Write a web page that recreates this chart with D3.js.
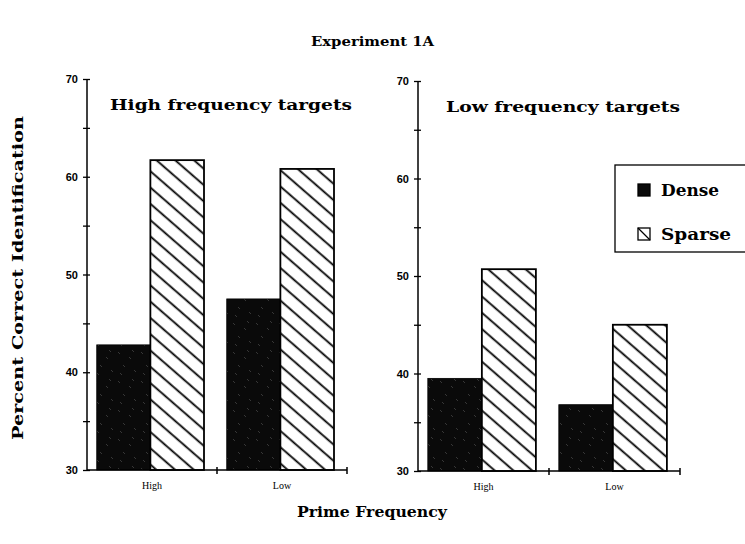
<!DOCTYPE html>
<html><head><meta charset="utf-8">
<script src="https://cdn.jsdelivr.net/npm/d3@7"></script>
<style>
html,body{margin:0;padding:0;background:#fff;}
svg{display:block;}
</style>
</head><body>
<svg id="chart" width="745" height="544"></svg>
<script>
// ---- data ----
const primeCategories = ["High", "Low"];
const seriesNames = ["Dense", "Sparse"];
const highTargetsDense = [42.8, 47.5];
const highTargetsSparse = [61.7, 60.8];
const lowTargetsDense = [39.5, 36.8];
const lowTargetsSparse = [50.7, 45.0];
const yTickValues = [30, 35, 40, 45, 50, 55, 60, 65, 70];
const yTickLabels = ["30", "", "40", "", "50", "", "60", "", "70"];
const panelTitles = ["High frequency targets", "Low frequency targets"];

const svg = d3.select("#chart");
const slab = "'DejaVu Serif', serif";

// patterns
const defs = svg.append("defs");
const hatch = defs.append("pattern").attr("id", "hatch")
  .attr("patternUnits", "userSpaceOnUse").attr("width", 12).attr("height", 12.3)
  .attr("patternTransform", "rotate(41)");
hatch.append("rect").attr("width", 12).attr("height", 12.3).attr("fill", "#fff");
hatch.append("line").attr("x1", -1).attr("x2", 13).attr("y1", 6).attr("y2", 6)
  .attr("stroke", "#000").attr("stroke-width", 1.8);

const dense = defs.append("pattern").attr("id", "dense")
  .attr("patternUnits", "userSpaceOnUse").attr("width", 23).attr("height", 29);
dense.append("rect").attr("width", 23).attr("height", 29).attr("fill", "#0a0a0a");
[[3,4],[14,9],[8,17],[19,22],[5,25],[17,2]].forEach(p => {
  dense.append("line").attr("x1", p[0]).attr("y1", p[1]).attr("x2", p[0]+2).attr("y2", p[1]+2)
    .attr("stroke", "#555").attr("stroke-width", 0.6);
});

function slabText(sel, size, len) {
  return sel.attr("font-family", slab).attr("font-weight", "bold").attr("font-size", size)
    .attr("textLength", len).attr("lengthAdjust", "spacingAndGlyphs");
}

// title
slabText(svg.append("text").attr("x", 311).attr("y", 46), 13, 123).text("Experiment 1A");

// y label
slabText(svg.append("text").attr("transform", "translate(23,440) rotate(-90)"), 14, 324)
  .text("Percent Correct Identification");

// x label
slabText(svg.append("text").attr("x", 297).attr("y", 517), 14, 150).text("Prime Frequency");

const panels = [
  {x0: 87, x1: 347, yTop: 79, yBot: 470, dense: highTargetsDense, sparse: highTargetsSparse, title: panelTitles[0], tx: 110, ty: 110, tw: 242},
  {x0: 418, x1: 680, yTop: 81, yBot: 471, dense: lowTargetsDense, sparse: lowTargetsSparse, title: panelTitles[1], tx: 446, ty: 112, tw: 234}
];

panels.forEach(p => {
  const g = svg.append("g");
  const y = d3.scaleLinear().domain([30, 70]).range([p.yBot, p.yTop]);
  const x = d3.scaleBand().domain(primeCategories).range([p.x0, p.x1]).padding(0);
  const xs = d3.scaleBand().domain(seriesNames)
    .range([x.bandwidth() * 0.075, x.bandwidth() * 0.9]).padding(0);

  // bars
  primeCategories.forEach((c, i) => {
    const vals = [p.dense[i], p.sparse[i]];
    seriesNames.forEach((s, j) => {
      g.append("rect")
        .attr("x", x(c) + xs(s))
        .attr("y", y(vals[j]))
        .attr("width", xs.bandwidth())
        .attr("height", y(30) - y(vals[j]))
        .attr("fill", j === 0 ? "url(#dense)" : "url(#hatch)")
        .attr("stroke", "#000")
        .attr("stroke-width", j === 0 ? 0.8 : 1.8);
    });
  });

  // y axis
  const ya = g.append("g").attr("transform", `translate(${p.x0},0)`)
    .call(d3.axisLeft(y).tickValues(yTickValues).tickSize(4).tickPadding(5)
      .tickFormat((d, i) => yTickLabels[i]));
  ya.select(".domain").attr("stroke-width", 1.5).attr("d", `M0,${p.yBot}V${p.yTop}`);
  ya.selectAll(".tick line").attr("x1", 3).attr("x2", -4).attr("stroke-width", 1.3);
  ya.selectAll(".tick text").attr("font-family", "'Liberation Sans', Arial, sans-serif")
    .attr("font-weight", "bold").attr("font-size", 11).attr("fill", "#000");

  // x axis
  const xa = g.append("g").attr("transform", `translate(0,${p.yBot})`)
    .call(d3.axisBottom(x).tickSize(0).tickPadding(12));
  xa.select(".domain").attr("stroke-width", 1.5).attr("d", `M${p.x0},0H${p.x1}`);
  xa.selectAll(".tick text").attr("font-family", "'Liberation Serif', serif")
    .attr("font-size", 10).attr("fill", "#000");
  // boundary ticks
  const bounds = [x(primeCategories[1]), p.x1];
  g.selectAll(".bt").data(bounds).join("line")
    .attr("x1", d => d).attr("x2", d => d)
    .attr("y1", p.yBot - 3).attr("y2", p.yBot + 4)
    .attr("stroke", "#000").attr("stroke-width", 1.5);

  // panel title
  slabText(g.append("text").attr("x", p.tx).attr("y", p.ty), 15, p.tw).text(p.title);
});

// legend
const lg = svg.append("g");
lg.append("rect").attr("x", 615).attr("y", 165).attr("width", 140).attr("height", 87)
  .attr("fill", "#fff").attr("stroke", "#000").attr("stroke-width", 1.3);
seriesNames.forEach((s, i) => {
  const yy = 184 + i * 44;
  lg.append("rect").attr("x", 638).attr("y", yy).attr("width", 12).attr("height", 12)
    .attr("fill", i === 0 ? "#0a0a0a" : "#fff").attr("stroke", "#000").attr("stroke-width", 1.3);
  if (i === 1) {
    lg.append("line").attr("x1", 638).attr("y1", yy).attr("x2", 650).attr("y2", yy + 12)
      .attr("stroke", "#000").attr("stroke-width", 1.3);
  }
  slabText(lg.append("text").attr("x", 661).attr("y", yy + 12), 16, i === 0 ? 58 : 70).text(s);
});
</script>
</body></html>
